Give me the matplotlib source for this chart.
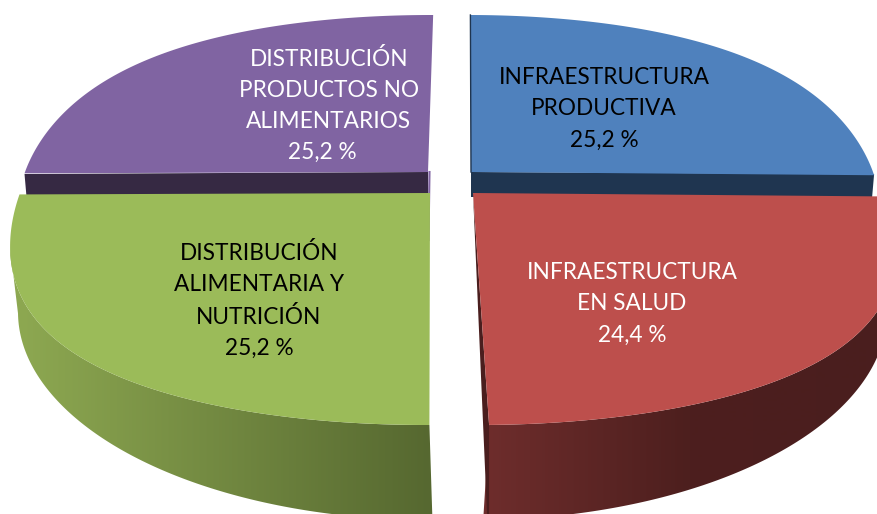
import numpy as np
import matplotlib
matplotlib.use('Agg')
import matplotlib.pyplot as plt
from matplotlib.colors import to_rgb
from matplotlib.patches import Polygon

plt.rcParams['font.family'] = ['Lato', 'DejaVu Sans']

# data, clockwise from the top
names = ['INFRAESTRUCTURA\nPRODUCTIVA', 'INFRAESTRUCTURA\nEN SALUD',
         'DISTRIBUCIÓN\nALIMENTARIA Y\nNUTRICIÓN', 'DISTRIBUCIÓN\nPRODUCTOS NO\nALIMENTARIOS']
values = [25.2, 24.4, 25.2, 25.2]
top_colors = ['#4f81bd', '#bd4f4c', '#9bbb59', '#8064a2']
text_colors = ['black', 'white', 'black', 'white']

# layout in pixels: exploded wedge tips, radius, far/near rim
start_angle = 89.7
vanish_x = 451
horizon_y = -1000
tip_x = [471, 473, 430, 428]
tip_y = [172, 193, 193, 172]
radius_x = [402, 414, 410, 403]
rim_y = [15, 425, 425, 15]
fullness = [0.14, 0.2, 0.2, 0.14]
start_trim = [0, 0, -0.8, 0]
name_x = [604, 632, 259, 329]
name_y = [93, 288, 285, 90]
pct_x = [604, 632, 259, 322]
pct_y = [140, 335, 348, 152]

fig = plt.figure(figsize=(8.77, 5.14), dpi=100)
ax = fig.add_axes([0, 0, 1, 1])


def top_face(i, a, b):
    # circle seen in perspective, a bit fuller than a true one
    t = np.radians(np.linspace(a, b, 120))
    u0 = 1 / (tip_y[i] - horizon_y)
    slope = abs(1 / (rim_y[i] - horizon_y) - u0)
    u = u0 + slope * np.sin(t)
    scale = u0 / u
    big_x = np.cos(t) * (1 + fullness[i] * np.sin(t) ** 2)
    x = vanish_x + (tip_x[i] - vanish_x + radius_x[i] * big_x) * scale
    y = horizon_y + 1 / u
    return x, y


def gradient_fill(pts, stop_x, stop_colors):
    xs = np.arange(0, 878)
    rgb = np.array([to_rgb(c) for c in stop_colors])
    img = np.stack([np.interp(xs, stop_x, rgb[:, k]) for k in range(3)], axis=-1)[None, :, :]
    im = ax.imshow(img, extent=[0, 877, 514, 0], aspect='auto', zorder=3)
    im.set_clip_path(Polygon(pts, closed=True, transform=ax.transData))


# angles of the wedges come from the values
ends = start_angle - np.cumsum(values) * 3.6
starts = np.r_[start_angle, ends[:-1]] + np.array(start_trim)

# back wedges: flat dark band, then the top
side_dark = {0: '#1f3550', 3: '#362943'}
for i in [0, 3]:
    x, y = top_face(i, starts[i], ends[i])
    rim_x = x[-1] if i == 0 else x[0]
    sgn = -1 if i == 0 else 1
    ax.fill([tip_x[i], rim_x, rim_x + 2 * sgn, tip_x[i]],
            [tip_y[i], tip_y[i] + 2, 197, 197], color=side_dark[i], lw=0, zorder=1)
    ax.fill(np.r_[tip_x[i], x], np.r_[tip_y[i], y], color=top_colors[i], lw=0, zorder=2)
# thin cut faces of the back wedges
x, y = top_face(0, starts[0], ends[0])
ax.plot([tip_x[0], x[0]], [tip_y[0], y[0]], color='#1f3550', lw=1.0, zorder=2)
ax.plot([tip_x[3] + 1.5, tip_x[3] + 0.5], [tip_y[3], 240], color='#8064a2', lw=1.5, zorder=1)

# front wedges: shaded side under the top
bottom_cx = {1: 475, 2: 430}
side_stops_x = {1: [487, 690, 880], 2: [20, 430]}
side_stops_c = {1: ['#6e2d2c', '#4d1f1e', '#4a1e1e'], 2: ['#8da851', '#566830']}
for i in [1, 2]:
    x, y = top_face(i, starts[i], ends[i])
    t = np.radians(np.linspace(ends[i], starts[i], 120))
    bx = bottom_cx[i] + 412 * np.cos(t)
    by = 312 - 208 * np.sin(t)
    sx, sy = x, y
    if i == 2:
        # side only starts at the left extreme of the top
        k = np.argmin(x)
        sx, sy = x[:k + 1], y[:k + 1]
    gradient_fill(np.c_[np.r_[sx, bx], np.r_[sy, by]], side_stops_x[i], side_stops_c[i])
    ax.fill(np.r_[tip_x[i], x], np.r_[tip_y[i], y], color=top_colors[i], lw=0, zorder=6)

# dark sliver left of the red top
x, y = top_face(1, starts[1], ends[1])
ax.fill([tip_x[1], x[-1], x[-1], tip_x[1] + 14], [tip_y[1], y[-1], 514, 514],
        color='#4a1e1e', lw=0, zorder=5)

for i in range(4):
    pct = f'{values[i]:.1f} %'.replace('.', ',')
    ax.text(name_x[i], name_y[i], names[i], color=text_colors[i], fontsize=16.3, ha='center',
            va='center', linespacing=1.58, zorder=8)
    ax.text(pct_x[i], pct_y[i], pct, color=text_colors[i], fontsize=16.3, ha='center',
            va='center', zorder=8)

ax.set_xlim(0, 877)
ax.set_ylim(514, 0)
ax.axis('off')
fig.savefig('out.png', dpi=100)
